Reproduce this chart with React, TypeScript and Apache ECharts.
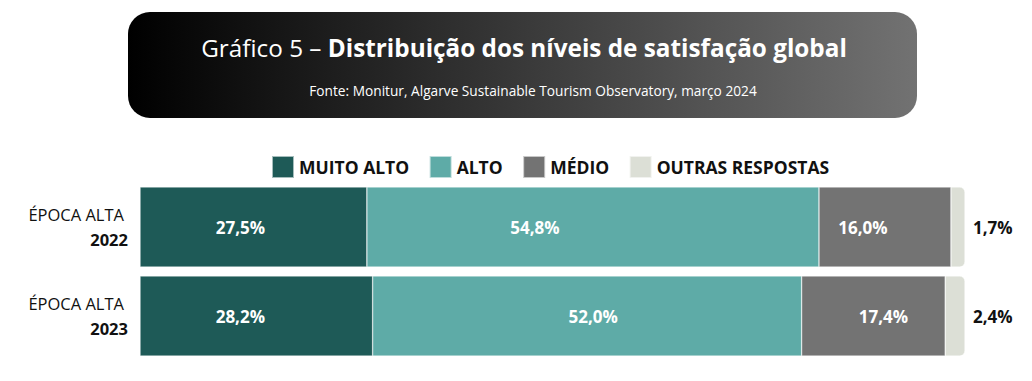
import React, { useEffect, useRef } from "react";
import * as echarts from "echarts";

const categories = ["2022", "2023"];
const categoryPrefix = "ÉPOCA ALTA";
const seriesNames = ["MUITO ALTO", "ALTO", "MÉDIO", "OUTRAS RESPOSTAS"];
const muitoAlto = [27.5, 28.2];
const alto = [54.8, 52.0];
const medio = [16.0, 17.4];
const outras = [1.7, 2.4];
const colors = ["#1E5A57", "#5EABA7", "#737373", "#DCDFD6"];
// label horizontal nudges (px) per series per row, to mimic reference placement
const labelNudges = [
  [-13, -16],
  [-58, 6],
  [-22, 10],
  [0, 0],
];

const FONT = "'Open Sans', 'Noto Sans', sans-serif";

export default function App() {
  const ref = useRef<HTMLDivElement>(null);
  useEffect(() => {
    if (!ref.current) return;
    const chart = echarts.init(ref.current, undefined, { renderer: "svg" });
    const allData = [muitoAlto, alto, medio, outras];
    const series = allData.map((vals, si) => ({
      name: seriesNames[si],
      type: "bar",
      stack: "total",
      barCategoryGap: "10%",
      itemStyle: {
        color: colors[si],
        borderColor: "rgba(255,255,255,0.6)",
        borderWidth: 0.6,
        borderRadius: si === 3 ? [0, 5, 5, 0] : 0,
      },
      data: vals.map((v, i) => ({
        value: v,
        label: { offset: [labelNudges[si][i], 0] },
      })),
      label: {
        show: true,
        position: si === 3 ? "right" : "inside",
        distance: 8,
        formatter: (p: any) => p.value.toFixed(1).replace(".", ",") + "%",
        color: si === 3 ? "#111" : "#fff",
        fontWeight: "bold",
        fontSize: 17,
        fontFamily: FONT,
      },
    }));
    chart.setOption({
      animation: false,
      textStyle: { fontFamily: FONT },
      graphic: [
        {
          type: "rect",
          shape: { x: 128, y: 12, width: 789, height: 106, r: 22 },
          style: {
            fill: new echarts.graphic.LinearGradient(0, 0, 1, 0, [
              { offset: 0, color: "#000000" },
              { offset: 1, color: "#727272" },
            ]),
          },
        },
        {
          type: "text",
          x: 524,
          y: 47,
          style: {
            text: "{a|Gráfico 5 – }{b|Distribuição dos níveis de satisfação global}",
            align: "center",
            verticalAlign: "middle",
            rich: {
              a: { fill: "#fff", fontSize: 24.3, fontFamily: FONT },
              b: { fill: "#fff", fontSize: 24.3, fontWeight: "bold", fontFamily: FONT },
            },
          },
        },
        {
          type: "text",
          x: 533,
          y: 90,
          style: {
            text: "Fonte: Monitur, Algarve Sustainable Tourism Observatory, março 2024",
            align: "center",
            verticalAlign: "middle",
            fill: "#fff",
            fontSize: 13.7,
            fontFamily: FONT,
          },
        },
      ],
      legend: {
        data: seriesNames,
        left: 266,
        top: 150,
        itemWidth: 22,
        itemHeight: 22,
        itemGap: 19.5,
        icon: "rect",
        textStyle: {
          fontSize: 17.5,
          fontWeight: "bold",
          color: "#111",
          fontFamily: FONT,
        },
      },
      grid: { left: 140, right: 67, top: 182.5, bottom: 20.5, containLabel: false },
      xAxis: {
        type: "value",
        min: 0,
        max: 100,
        show: false,
      },
      yAxis: {
        type: "category",
        data: categories,
        inverse: true,
        axisLine: { show: false },
        axisTick: { show: false },
        axisLabel: {
          margin: 12,
          align: "right",
          formatter: (v: string) => `{p|${categoryPrefix}}\n{y|${v}}`,
          rich: {
            p: { fontSize: 16.5, color: "#111", fontFamily: FONT, lineHeight: 25, align: "right", padding: [0, 4, 0, 0] },
            y: { fontSize: 16.5, color: "#111", fontWeight: "bold", fontFamily: FONT, lineHeight: 25, align: "right" },
          },
        },
      },
      series,
    });
    return () => chart.dispose();
  }, []);
  return (
    <div
      ref={ref}
      style={{ position: "absolute", left: 0, top: 0, width: 1032, height: 381, background: "#fff" }}
    />
  );
}
